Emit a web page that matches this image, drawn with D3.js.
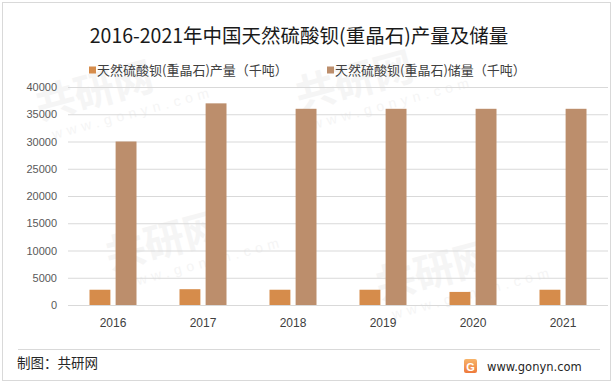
<!DOCTYPE html>
<html>
<head>
<meta charset="utf-8">
<script src="https://cdn.jsdelivr.net/npm/d3@7"></script>
<style>
	body { margin: 0; background: #fff; }
	svg { display: block; }
</style>
</head>
<body>
<div id="contents"></div>
<script>
var years = ['2016', '2017', '2018', '2019', '2020', '2021'];
var seriesNames = ['天然硫酸钡(重晶石)产量（千吨）', '天然硫酸钡(重晶石)储量（千吨）'];
var production = [2800, 2900, 2800, 2800, 2400, 2800];
var reserves = [30000, 37000, 36000, 36000, 36000, 36000];
var yTicks = [0, 5000, 10000, 15000, 20000, 25000, 30000, 35000, 40000];
var colors = ['#d68c4b', '#bc8e6c'];

var cjk = '"Noto Sans CJK SC", "Noto Sans", sans-serif';
var num = '"Liberation Sans", Arial, sans-serif';

var svg = d3.select('#contents')
	.append('svg')
	.attr('width', 613)
	.attr('height', 384);

// faint watermarks, kept inside the frame
var marks = [[40, 120], [300, 110], [110, 270], [380, 300]];
marks.forEach(function(m) {
	var g = svg.append('g')
		.attr('transform', 'translate(' + m[0] + ',' + m[1] + ') rotate(-15)');
	g.append('text')
		.attr('font-family', cjk)
		.attr('font-weight', 'bold')
		.attr('font-size', 40)
		.attr('fill', '#f5f5f5')
		.text('共研网');
	g.append('text')
		.attr('y', 22)
		.attr('x', 8)
		.attr('font-family', num)
		.attr('font-size', 14)
		.attr('letter-spacing', 5)
		.attr('fill', '#f5f5f5')
		.text('www.gonyn.com');
});

// frame
svg.append('rect')
	.attr('x', 2.5).attr('y', 2.5)
	.attr('width', 608).attr('height', 378)
	.attr('fill', 'none')
	.attr('stroke', '#d9d9d9');

svg.append('text')
	.attr('x', 299).attr('y', 43)
	.attr('text-anchor', 'middle')
	.attr('font-family', cjk)
	.attr('font-size', 19.5)
	.attr('fill', '#1a1a1a')
	.text('2016-2021年中国天然硫酸钡(重晶石)产量及储量');

// legend
var legX = [89, 327];
seriesNames.forEach(function(name, i) {
	svg.append('rect')
		.attr('x', legX[i]).attr('y', 66.5)
		.attr('width', 7).attr('height', 7)
		.attr('fill', colors[i]);
	svg.append('text')
		.attr('x', legX[i] + 8).attr('y', 75)
		.attr('font-family', cjk)
		.attr('font-size', 13)
		.attr('fill', '#404040')
		.text(name);
});

var x = d3.scaleBand().domain(years).range([68, 608]);
var x1 = d3.scaleBand().domain([0, 1]).range([-23.5, 23.5]).paddingInner(0.2);
var y = d3.scaleLinear().domain([0, 40000]).range([305, 87]);

var yAxis = svg.append('g')
	.attr('transform', 'translate(68,0)')
	.call(d3.axisLeft(y).tickValues(yTicks).tickSize(-540).tickPadding(11).tickFormat(d3.format('d')));
yAxis.select('.domain').remove();
yAxis.selectAll('line').attr('stroke', '#d9d9d9');
yAxis.selectAll('text')
	.attr('font-family', num)
	.attr('font-size', 11)
	.attr('fill', '#595959');

var xAxis = svg.append('g')
	.attr('transform', 'translate(0,305)')
	.call(d3.axisBottom(x).tickSize(0).tickPadding(13));
xAxis.select('.domain').remove();
xAxis.selectAll('text')
	.attr('font-family', num)
	.attr('font-size', 12)
	.attr('fill', '#404040');

[production, reserves].forEach(function(vals, s) {
	svg.append('g').selectAll('rect')
		.data(vals)
		.enter()
		.append('rect')
		.attr('x', function(d, i) { return x(years[i]) + x.bandwidth() / 2 + x1(s); })
		.attr('y', function(d) { return y(d); })
		.attr('width', x1.bandwidth())
		.attr('height', function(d) { return y(0) - y(d); })
		.attr('fill', colors[s]);
});

// footer
svg.append('line')
	.attr('x1', 18).attr('x2', 600)
	.attr('y1', 349.5).attr('y2', 349.5)
	.attr('stroke', '#d9d9d9');
svg.append('text')
	.attr('x', 17).attr('y', 368)
	.attr('font-family', cjk)
	.attr('font-size', 13.5)
	.attr('fill', '#262626')
	.text('制图：共研网');

var grad = svg.append('defs').append('linearGradient')
	.attr('id', 'lg').attr('x1', 0).attr('y1', 0).attr('x2', 0).attr('y2', 1);
grad.append('stop').attr('offset', 0).attr('stop-color', '#f7b46a');
grad.append('stop').attr('offset', 1).attr('stop-color', '#ee7a3c');
svg.append('rect')
	.attr('x', 464).attr('y', 359)
	.attr('width', 13).attr('height', 14)
	.attr('rx', 2)
	.attr('fill', 'url(#lg)');
svg.append('text')
	.attr('x', 470.5).attr('y', 370.5)
	.attr('text-anchor', 'middle')
	.attr('font-family', num)
	.attr('font-weight', 'bold')
	.attr('font-size', 11)
	.attr('fill', '#fff')
	.text('G');
svg.append('text')
	.attr('x', 487).attr('y', 370.5)
	.attr('font-family', '"DejaVu Sans", sans-serif')
	.attr('font-size', 11.5)
	.attr('fill', '#262626')
	.text('www.gonyn.com');
</script>
</body>
</html>
